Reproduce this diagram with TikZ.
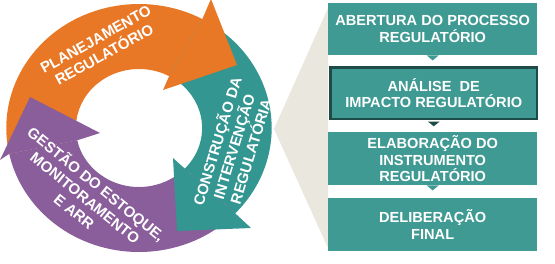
\documentclass[tikz,border=0pt]{standalone}
\usepackage{fontspec}
\setmainfont{Liberation Sans}
\usetikzlibrary{calc}
\definecolor{orng}{HTML}{E97826}
\definecolor{tealr}{HTML}{339691}
\definecolor{purp}{HTML}{8A5D9B}
\definecolor{tealb}{HTML}{3E9A92}
\definecolor{tealdk}{HTML}{1E4B48}
\definecolor{beige}{HTML}{E9E7DE}
\begin{document}
\begin{tikzpicture}[x=1pt,y=1pt,
  ringtxt/.style={text=white,font=\bfseries\fontsize{15}{17.5}\selectfont,align=center,inner sep=0pt},
  boxtxt/.style={fill=tealb,text=white,font=\bfseries\fontsize{14.6}{16.6}\selectfont,align=center,inner sep=0pt,anchor=north west,minimum width=209pt},
  ptr/.style={fill=tealb}
]
\useasboundingbox (0,0) rectangle (555,-263);
\fill[white] (0,0) rectangle (555,-263);
% beige funnel
\fill[beige] (274,-129) -- (328,-8) -- (328,-248) -- cycle;
% ring bands
\begin{scope}[shift={(139,-128)},xscale=1.07]
\fill[orng] (192:124) arc[start angle=192,end angle=61.5,radius=124] -- (61.5:59) arc[start angle=61.5,end angle=192,radius=59] -- cycle;
\fill[tealr] (61.5:124) arc[start angle=61.5,end angle=-43.5,radius=124] -- (-43.5:59) arc[start angle=-43.5,end angle=61.5,radius=59] -- cycle;
\fill[purp] (-43.5:124) arc[start angle=-43.5,end angle=-168,radius=124] -- (-168:59) arc[start angle=-168,end angle=-43.5,radius=59] -- cycle;
\coordinate (oo) at (61.5:124); \coordinate (oi) at (61.5:59);
\coordinate (to) at (-43.5:124); \coordinate (ti) at (-43.5:59);
\coordinate (po) at (192:124); \coordinate (pi) at (192:59);
\end{scope}
% arrow heads
\fill[orng] (oo) -- (211,1) -- (237,-65) -- (163,-90) -- (oi) -- cycle;
\fill[tealr] (to) -- (251,-228) -- (177,-231) -- (173,-158) -- (ti) -- cycle;
\fill[purp] (po) -- (0,-160) -- (30,-97) -- (100,-133) -- (pi) -- cycle;
% ring texts
\node[ringtxt,rotate=29] (tplan) at (100,-47) {PLANEJAMENTO\\REGULATÓRIO};
\node[ringtxt,rotate=73] (tcons) at (233,-146) {CONSTRUÇÃO DA\\INTERVENÇÃO\\REGULATÓRIA};
\node[ringtxt,rotate=-39] (tgest) at (86,-197) {GESTÃO DO ESTOQUE,\\MONITORAMENTO\\E ARR};
% boxes
\node[boxtxt,minimum height=52pt] (b1) at (328,-3) {ABERTURA DO PROCESSO\\REGULATÓRIO};
\node[boxtxt,draw=tealdk,line width=2.5pt,minimum width=206.5pt,minimum height=51.5pt] (b2) at (329.25,-66.25) {ANÁLISE~~DE\\IMPACTO REGULATÓRIO};
\node[boxtxt,minimum height=53pt] (b3) at (328,-132) {ELABORAÇÃO DO\\INSTRUMENTO\\REGULATÓRIO};
\node[boxtxt,minimum height=53pt] (b4) at (328,-198) {DELIBERAÇÃO\\FINAL};
% pointers
\fill[ptr] ($(b1.south)+(-6,0)$) -- ($(b1.south)+(6,0)$) -- ($(b1.south)+(0,-5)$) -- cycle;
\fill[tealdk] ($(b2.south)+(-6,-1.25)$) -- ($(b2.south)+(6,-1.25)$) -- ($(b2.south)+(0,-6)$) -- cycle;
\fill[ptr] ($(b3.south)+(-6,0)$) -- ($(b3.south)+(6,0)$) -- ($(b3.south)+(0,-5)$) -- cycle;
\end{tikzpicture}
\end{document}
